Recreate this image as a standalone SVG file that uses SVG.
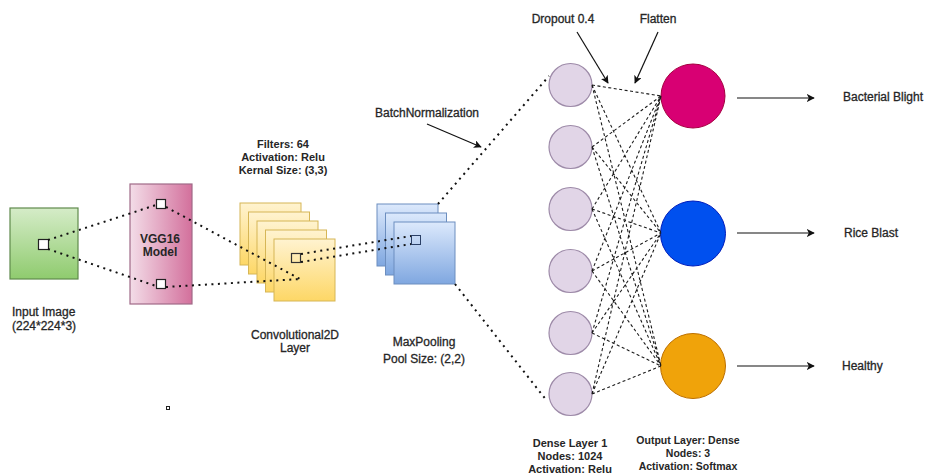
<svg xmlns="http://www.w3.org/2000/svg" width="927" height="475" viewBox="0 0 927 475">
<style>
  text { font-family: "Liberation Sans", Arial, sans-serif; fill: #262626; }
  .r12 { font-size: 12px; stroke: #262626; stroke-width: 0.3; }
  .b11 { font-size: 11px; font-weight: bold; }
  .b10 { font-size: 10.5px; font-weight: bold; }
  .mid { text-anchor: middle; }
  .dot { fill: none; stroke: #111; stroke-width: 2; stroke-dasharray: 2 4.5; }
  .dash { fill: none; stroke: #1a1a1a; stroke-width: 1.1; stroke-dasharray: 3 2.5; }
  .arr { fill: none; stroke: #111; stroke-width: 1.2; marker-end: url(#ah); }
  .conv { fill: url(#gY); stroke: #d6b656; stroke-width: 1; }
  .pool { fill: url(#gB); stroke: #6c8ebf; stroke-width: 1; }
  .dense { fill: #e1d5e7; stroke: #9d8aa8; stroke-width: 1.2; }
  .sq { fill: #fff; stroke: #222; stroke-width: 1.2; }
</style>
<defs>
  <linearGradient id="gG" x1="0" y1="0" x2="0" y2="1">
    <stop offset="0" stop-color="#d5ecc8"/>
    <stop offset="1" stop-color="#8fcb6e"/>
  </linearGradient>
  <linearGradient id="gP" x1="0" y1="0" x2="1" y2="0">
    <stop offset="0" stop-color="#f3dde8"/>
    <stop offset="1" stop-color="#d3709c"/>
  </linearGradient>
  <linearGradient id="gY" x1="0" y1="0" x2="0" y2="1">
    <stop offset="0" stop-color="#fff3d0"/>
    <stop offset="1" stop-color="#fdd766"/>
  </linearGradient>
  <linearGradient id="gB" x1="0" y1="0" x2="0" y2="1">
    <stop offset="0" stop-color="#dce9fc"/>
    <stop offset="1" stop-color="#7fa7e0"/>
  </linearGradient>
  <marker id="ah" viewBox="0 0 10 10" refX="9" refY="5" markerWidth="8" markerHeight="8" markerUnits="userSpaceOnUse" orient="auto">
    <path d="M0,0 L10,5 L0,10 L2.5,5 Z" fill="#111"/>
  </marker>
</defs>

<g id="input-image">
  <rect x="10" y="208" width="68" height="71" fill="url(#gG)" stroke="#5f8a4c" stroke-width="1.2"/>
  <rect class="sq" x="38.5" y="239.5" width="10" height="10"/>
  <text class="r12" x="12" y="316">Input Image</text>
  <text class="r12" x="12" y="330">(224*224*3)</text>
</g>

<g id="vgg16">
  <rect x="130" y="184" width="62" height="120" fill="url(#gP)" stroke="#a06a88" stroke-width="1.2"/>
  <rect class="sq" x="156.5" y="199.5" width="9" height="9"/>
  <rect class="sq" x="156.5" y="279.5" width="9" height="9"/>
  <text class="b11 mid" x="160" y="243" style="font-size:12px">VGG16</text>
  <text class="b11 mid" x="160" y="256" style="font-size:12px">Model</text>
</g>

<g id="conv2d">
  <rect class="conv" x="240" y="203" width="61" height="62"/>
  <rect class="conv" x="248.5" y="212" width="61" height="62"/>
  <rect class="conv" x="257" y="221" width="61" height="62"/>
  <rect class="conv" x="265.5" y="230" width="61" height="62"/>
  <rect class="conv" x="274" y="239" width="61" height="62"/>
  <rect fill="none" stroke="#333" stroke-width="1.2" x="291.5" y="253.5" width="9" height="9"/>
  <text class="b11 mid" x="283" y="148">Filters: 64</text>
  <text class="b11 mid" x="283" y="161">Activation: Relu</text>
  <text class="b11 mid" x="283" y="174">Kernal Size: (3,3)</text>
  <text class="r12 mid" x="295" y="339">Convolutional2D</text>
  <text class="r12 mid" x="295" y="352">Layer</text>
</g>

<g id="maxpool">
  <rect class="pool" x="377" y="204" width="61" height="62"/>
  <rect class="pool" x="385.5" y="213" width="61" height="62"/>
  <rect class="pool" x="394" y="222" width="61" height="62"/>
  <rect fill="none" stroke="#2a3f66" stroke-width="1" x="411.5" y="235.5" width="9" height="9"/>
  <text class="r12 mid" x="424" y="346">MaxPooling</text>
  <text class="r12 mid" x="424" y="363">Pool Size: (2,2)</text>
</g>

<g id="dense-layer">
  <circle class="dense" cx="570.5" cy="85" r="21.5"/>
  <circle class="dense" cx="570.5" cy="147" r="21.5"/>
  <circle class="dense" cx="570.5" cy="209" r="21.5"/>
  <circle class="dense" cx="570.5" cy="271" r="21.5"/>
  <circle class="dense" cx="570.5" cy="333" r="21.5"/>
  <circle class="dense" cx="570.5" cy="394" r="21.5"/>
  <text class="b11 mid" x="570" y="447">Dense Layer 1</text>
  <text class="b11 mid" x="570" y="460">Nodes: 1024</text>
  <text class="b11 mid" x="570" y="473">Activation: Relu</text>
</g>

<g id="output-layer">
  <circle cx="693" cy="96" r="32" fill="#d80073" stroke="#a50040" stroke-width="1"/>
  <circle cx="693" cy="233.5" r="32.5" fill="#0050ef" stroke="#001dbc" stroke-width="1"/>
  <circle cx="693" cy="366" r="32.5" fill="#f0a30a" stroke="#bd7000" stroke-width="1"/>
  <text class="b10 mid" x="688" y="444">Output Layer: Dense</text>
  <text class="b10 mid" x="688" y="457">Nodes: 3</text>
  <text class="b10 mid" x="688" y="470">Activation: Softmax</text>
</g>

<g id="labels">
  <text class="r12 mid" x="427" y="117">BatchNormalization</text>
  <text class="r12 mid" x="563" y="23">Dropout 0.4</text>
  <text class="r12 mid" x="658" y="23">Flatten</text>
  <text class="r12" x="843" y="101">Bacterial Blight</text>
  <text class="r12" x="844" y="237">Rice Blast</text>
  <text class="r12" x="842" y="370">Healthy</text>
  <rect x="166.5" y="406.5" width="3" height="3" fill="#fff" stroke="#222" stroke-width="1"/>
</g>

<g id="connectors">
  <path class="dot" d="M48,240 L156,205"/>
  <path class="dot" d="M48,249 L156,286"/>
  <path class="dot" d="M166,207 L300,279"/>
  <path class="dot" d="M166,287 L300,279"/>
  <path class="dot" d="M301,254 L411,236"/>
  <path class="dot" d="M301,262 L411,244"/>
  <path class="dot" d="M438,204 L549,76"/>
  <path class="dot" d="M455,284 L547,401"/>

  <path class="dash" d="M592,85 L661,96 M592,85 L661,233 M592,85 L661,366
                        M592,147 L661,96 M592,147 L661,233 M592,147 L661,366
                        M592,209 L661,96 M592,209 L661,233 M592,209 L661,366
                        M592,271 L661,96 M592,271 L661,233 M592,271 L661,366
                        M592,333 L661,96 M592,333 L661,233 M592,333 L661,366
                        M592,394 L661,96 M592,394 L661,233 M592,394 L661,366"/>

  <path class="arr" d="M427,124 L481,147"/>
  <path class="arr" d="M577,32 L608,83"/>
  <path class="arr" d="M658,32 L635,83"/>
  <path class="arr" d="M737,98 L814,98"/>
  <path class="arr" d="M737,233 L814,233"/>
  <path class="arr" d="M737,366 L814,366"/>
</g>
</svg>
